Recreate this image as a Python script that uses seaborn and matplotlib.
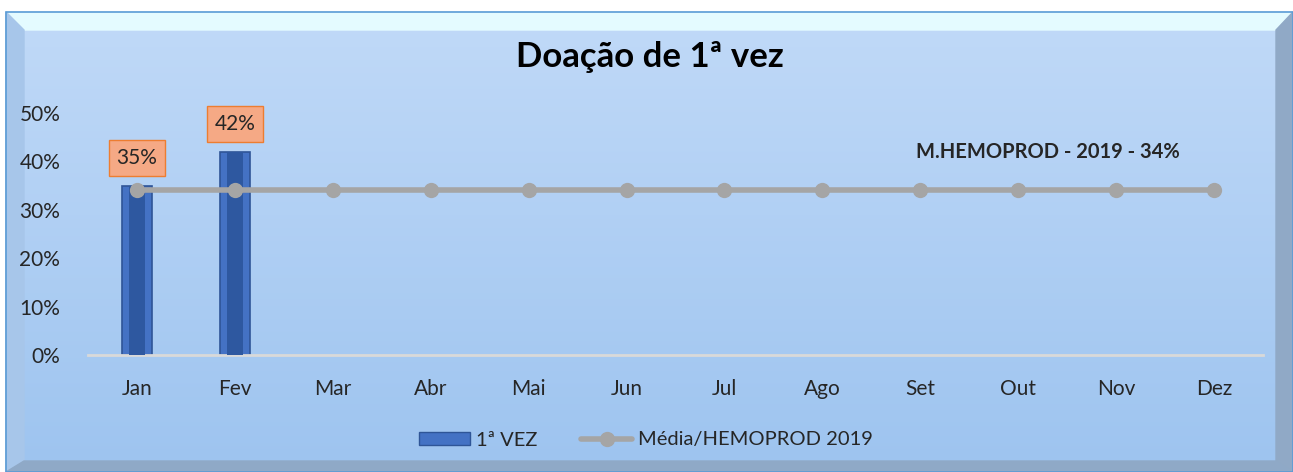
import numpy as np
import pandas as pd
import seaborn as sns
import matplotlib.pyplot as plt
from matplotlib.patches import Polygon, Rectangle
from matplotlib.lines import Line2D
from matplotlib.ticker import PercentFormatter

months = ["Jan", "Fev", "Mar", "Abr", "Mai", "Jun", "Jul", "Ago", "Set", "Out", "Nov", "Dez"]
first_time = [0.35, 0.42, np.nan, np.nan, np.nan, np.nan, np.nan, np.nan, np.nan, np.nan, np.nan, np.nan]
media_2019 = [0.34] * 12
title = "Doação de 1ª vez"
note = "M.HEMOPROD - 2019 - 34%"

df = pd.DataFrame({"mes": months, "vez": first_time, "media": media_2019})

sns.set_style("white")
plt.rcParams["font.family"] = ["Lato", "DejaVu Sans"]

W, H = 1293, 472
fig = plt.figure(figsize=(W / 100, H / 100), dpi=100)
fig.patch.set_facecolor("white")

# beveled frame background, in pixel coords
bg = fig.add_axes([0, 0, 1, 1], zorder=-5)
bg.set_xlim(0, W)
bg.set_ylim(H, 0)
bg.axis("off")
x0, y0, x1, y1 = 6, 12, 1293, 472
ix0, iy0, ix1, iy1 = 24, 30, 1276, 461
grad = np.linspace(0, 1, 256).reshape(-1, 1)
top_c = np.array([0.75, 0.85, 0.97])
bot_c = np.array([0.62, 0.77, 0.94])
img = top_c + (bot_c - top_c) * grad[..., None]
bg.imshow(img, extent=[ix0, ix1, iy1, iy0], aspect="auto", zorder=0)
bg.add_patch(Polygon([(x0, y0), (x1, y0), (ix1, iy0), (ix0, iy0)], color="#E4FBFF", zorder=1))
bg.add_patch(Polygon([(x0, y0), (ix0, iy0), (ix0, iy1), (x0, y1)], color="#A7C6EA", zorder=1))
bg.add_patch(Polygon([(x1, y0), (x1, y1), (ix1, iy1), (ix1, iy0)], color="#90A9C6", zorder=1))
bg.add_patch(Polygon([(x0, y1), (x1, y1), (ix1, iy1), (ix0, iy1)], color="#8FA9C7", zorder=1))
bg.add_patch(Rectangle((x0, y0), x1 - x0, y1 - y0, fill=False, edgecolor="#5B9BD5", lw=1.2, zorder=2))
bg.text(650, 57, title, ha="center", va="center", fontsize=25, fontweight="bold", color="black")

ax = fig.add_axes([88 / W, (H - 355) / H, 1175 / W, 242 / H])
ax.set_facecolor("none")
sns.barplot(data=df, x="mes", y="vez", color="#4472C4", width=0.31,
            edgecolor="#2F5597", linewidth=1.2, saturation=1, ax=ax, zorder=2)
sns.barplot(data=df, x="mes", y="vez", color="#2E58A0", width=0.17,
            linewidth=0, saturation=1, ax=ax, zorder=3)
sns.lineplot(data=df, x="mes", y="media", color="#A5A5A5", lw=4, marker="o",
             markersize=11, markeredgewidth=0, ax=ax, zorder=4, sort=False)

for i, v in enumerate(first_time):
    if not np.isnan(v):
        ax.annotate(f"{v:.0%}", (i, v), xytext=(0, 20), textcoords="offset points",
                    ha="center", va="center", fontsize=15,
                    bbox=dict(boxstyle="square,pad=0.38", fc="#F5A985", ec="#ED7D31", lw=1))

ax.text(0.8165, 0.84, note, transform=ax.transAxes, ha="center", va="center",
        fontsize=14.5, fontweight="bold")

ax.set_xlim(-0.5, 11.5)
ax.set_ylim(0, 0.5)
ax.set_yticks(np.arange(0, 0.51, 0.1))
ax.yaxis.set_major_formatter(PercentFormatter(1.0, decimals=0))
ax.set_xlabel("")
ax.set_ylabel("")
ax.tick_params(axis="both", length=0, labelsize=15)
ax.tick_params(axis="y", pad=20)
ax.tick_params(axis="x", pad=17)
for s in ["top", "right", "left"]:
    ax.spines[s].set_visible(False)
ax.spines["bottom"].set_color("#D9D9D9")
ax.spines["bottom"].set_linewidth(2)

handles = [
    Rectangle((0, 0), 1, 1, fc="#4472C4", ec="#2F5597"),
    Line2D([], [], color="#A5A5A5", lw=4, marker="o", markersize=11, markeredgewidth=0),
]
fig.legend(handles, ["1ª VEZ", "Média/HEMOPROD 2019"], loc="center",
           bbox_to_anchor=(646 / W, (H - 440) / H), ncol=2, frameon=False,
           fontsize=14.5, handlelength=2.5, handleheight=0.6, columnspacing=2.2, handletextpad=0.3)

fig.savefig("out.png", dpi=100)
